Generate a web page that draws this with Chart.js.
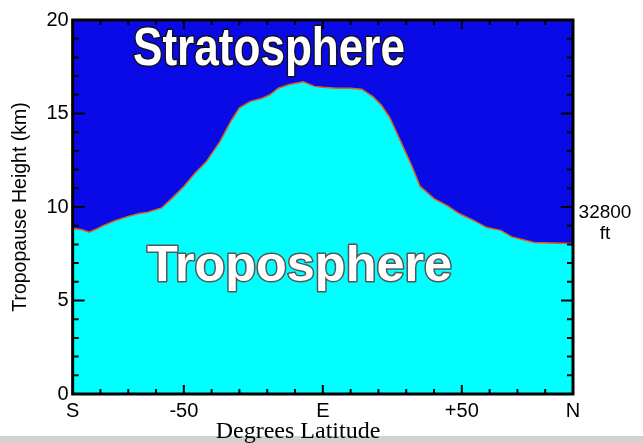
<!DOCTYPE html>
<html lang="en">
<head>
    <meta charset="UTF-8">
    <title>Tropopause Height</title>
    <style>
        body { margin: 0; background: #fff; }
        #wrap { width: 643px; height: 443px; }
    </style>
</head>
<body>
<div id="wrap"><canvas id="tropo" width="643" height="443"></canvas></div>
<script src="https://cdn.jsdelivr.net/npm/chart.js"></script>
<script>
    // latitude in degrees (S = -90, N = +90), tropopause height in km
    const latitudes = [-90, -87, -84, -81, -79, -75, -70, -66, -63, -58, -54, -50, -46, -42, -37, -33, -30, -26, -22, -19, -16, -12, -7, -3, 0, 5, 10, 14, 18, 21, 24, 28, 32, 35, 40, 45, 49, 54, 59, 64, 68, 72, 76, 82, 90]
    const heights = [8.85, 8.8, 8.65, 8.85, 9.0, 9.25, 9.5, 9.65, 9.72, 9.95, 10.5, 11.1, 11.8, 12.4, 13.5, 14.6, 15.3, 15.65, 15.8, 16.0, 16.35, 16.55, 16.7, 16.45, 16.4, 16.35, 16.35, 16.3, 15.9, 15.45, 14.8, 13.5, 12.2, 11.1, 10.45, 10.05, 9.65, 9.3, 8.9, 8.75, 8.4, 8.25, 8.1, 8.07, 8.05]

    const xTickVals = [-90, -50, 0, 50, 90]
    const xTickText = ["S", "-50", "E", "+50", "N"]
    const yTickStep = 5

    const stratoBlue = "#0a0ae6"
    const tropoCyan = "#00ffff"

    // blue sky above the line, frame with inward ticks, big labels
    const decor = {
        id: "decor",
        beforeDraw(chart) {
            let ctx = chart.ctx
            let a = chart.chartArea
            ctx.save()
            ctx.fillStyle = "#d2d2d2"
            ctx.fillRect(0, 436, chart.width, 7)
            ctx.fillStyle = stratoBlue
            ctx.fillRect(a.left, a.top, a.right - a.left, a.bottom - a.top)
            ctx.restore()
        },
        afterDatasetsDraw(chart) {
            let ctx = chart.ctx
            let a = chart.chartArea
            let x = chart.scales.x
            let y = chart.scales.y
            ctx.save()

            bigLabel(ctx, "Stratosphere", 133, 65, 272, 53, "#111")
            bigLabel(ctx, "Troposphere", 147, 281, 305, 50, "#555")

            // ticks
            ctx.strokeStyle = "#000"
            ctx.lineWidth = 2
            ctx.beginPath()
            for (let v = -80; v <= 80; v += 10) {
                let px = x.getPixelForValue(v)
                let len = (v % 50 === 0) ? 9 : 5
                ctx.moveTo(px, a.bottom); ctx.lineTo(px, a.bottom - len)
                ctx.moveTo(px, a.top); ctx.lineTo(px, a.top + len)
            }
            for (let v = 1; v < 20; v++) {
                let py = y.getPixelForValue(v)
                let len = (v % yTickStep === 0) ? 12 : 6
                ctx.moveTo(a.left, py); ctx.lineTo(a.left + len, py)
                ctx.moveTo(a.right, py); ctx.lineTo(a.right - len, py)
            }
            ctx.stroke()

            ctx.lineWidth = 3
            ctx.strokeRect(a.left, a.top, a.right - a.left, a.bottom - a.top)

            // right side note and x title
            ctx.fillStyle = "#000"
            ctx.textAlign = "center"
            ctx.textBaseline = "alphabetic"
            ctx.font = '19px "Liberation Sans", Arial, sans-serif'
            ctx.fillText("32800", 605, 218)
            ctx.fillText("ft", 605, 239)
            ctx.font = '24px "Liberation Serif", "Times New Roman", serif'
            ctx.fillText("Degrees Latitude", 298, 438)
            ctx.restore()
        }
    }

    function bigLabel(ctx, text, left, base, width, size, edge) {
        ctx.save()
        ctx.font = 'bold ' + size + 'px "Liberation Sans Narrow", "Liberation Sans", Arial, sans-serif'
        ctx.textAlign = "left"
        ctx.textBaseline = "alphabetic"
        let w = ctx.measureText(text).width
        ctx.translate(left, base)
        ctx.scale(width / w, 1)
        ctx.lineJoin = "round"
        ctx.lineWidth = 3
        ctx.strokeStyle = edge
        ctx.strokeText(text, 0, 0)
        ctx.fillStyle = "#fff"
        ctx.fillText(text, 0, 0)
        ctx.restore()
    }

    var chart = new Chart("tropo", {
        type: "line",
        data: {
            labels: latitudes,
            datasets: [{
                data: latitudes.map((lat, i) => ({x: lat, y: heights[i]})),
                fill: "origin",
                backgroundColor: tropoCyan,
                borderColor: "#d8641c",
                borderWidth: 1.5,
                pointRadius: 0,
                tension: 0
            }]
        },
        options: {
            responsive: false,
            animation: false,
            layout: {padding: {left: 9, right: 70, top: 20, bottom: 15}},
            plugins: {
                legend: {display: false},
                tooltip: {enabled: false}
            },
            scales: {
                x: {
                    type: "linear",
                    min: -90,
                    max: 90,
                    afterBuildTicks: (axis) => { axis.ticks = xTickVals.map(v => ({value: v})) },
                    ticks: {
                        autoSkip: false,
                        maxRotation: 0,
                        padding: 5,
                        color: "#000",
                        font: {family: '"Liberation Sans", Arial, sans-serif', size: 20},
                        callback: (v) => xTickText[xTickVals.indexOf(v)]
                    },
                    grid: {display: false, drawTicks: false},
                    border: {display: false}
                },
                y: {
                    min: 0,
                    max: 20,
                    ticks: {
                        stepSize: yTickStep,
                        padding: 4,
                        color: "#000",
                        font: {family: '"Liberation Sans", Arial, sans-serif', size: 20}
                    },
                    grid: {display: false, drawTicks: false},
                    border: {display: false},
                    title: {
                        display: true,
                        text: "Tropopause Height (km)",
                        color: "#000",
                        padding: {top: 0, bottom: 10},
                        font: {family: '"Liberation Sans", Arial, sans-serif', size: 19.5}
                    }
                }
            }
        },
        plugins: [decor]
    })
</script>
</body>
</html>
